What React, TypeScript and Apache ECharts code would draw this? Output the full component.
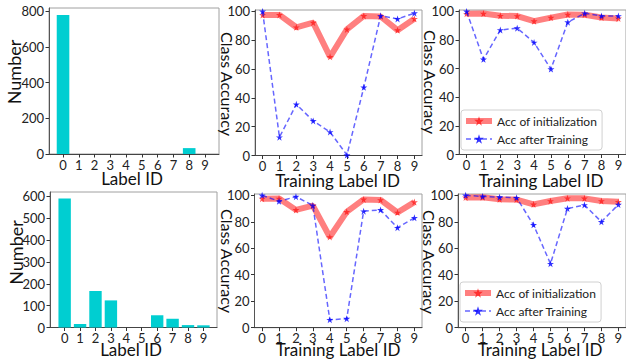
import React, { useEffect, useRef } from "react";
import * as echarts from "echarts";

const labelIds = [0, 1, 2, 3, 4, 5, 6, 7, 8, 9];
const countsTop = [780, 0, 0, 0, 0, 0, 0, 0, 33, 0];
const countsBottom = [590, 16, 167, 124, 0, 0, 56, 40, 11, 10];
const initAccA = [97.5, 97.6, 89, 92.2, 68.5, 87.5, 96.9, 96.5, 87, 94.9];
const initAccB = [98.4, 98.5, 97, 96.8, 93.2, 95.7, 97.8, 97.7, 95.7, 95.1];
const afterTopMid = [100, 12.7, 35.5, 24, 16.3, 0.3, 47.3, 97, 94.8, 98.8];
const afterTopRight = [100, 66.5, 87, 88.3, 78.3, 59.7, 92.5, 98.7, 96.8, 96.8];
const afterBotMid = [100, 95.5, 99, 92.3, 6, 6.8, 88, 89, 75.5, 83];
const afterBotRight = [100, 99.2, 98.6, 98.2, 77.7, 48.3, 90, 92.7, 80, 93];
const accTicks = [0, 20, 40, 60, 80, 100];
const countTicksTop = [0, 200, 400, 600, 800];
const countTicksBottom = [0, 100, 200, 300, 400, 500, 600];

const INIT_NAME = "Acc of initialization";
const AFTER_NAME = "Acc after Training";
const FONT = "Lato";
const STAR =
  "path://M100,0 L122.45,69.1 L195.1,69.1 L136.3,111.8 L158.8,180.9 L100,138.2 L41.2,180.9 L63.7,111.8 L4.9,69.1 L77.55,69.1 Z";

const INIT_LINE = { color: "rgba(255,0,0,0.5)", width: 6 };
const INIT_ITEM = { color: "rgba(255,20,20,0.75)", borderWidth: 0 };
const AFTER_LINE = { color: "rgba(0,0,255,0.6)", width: 1.5, type: [5, 3] };
const AFTER_ITEM = { color: "rgba(0,0,255,0.8)", borderWidth: 0 };

export default function App() {
  const ref = useRef<HTMLDivElement>(null);
  useEffect(() => {
    if (!ref.current) return;
    const chart = echarts.init(ref.current, undefined, { renderer: "svg" });

    const grids = [
      { left: 49, top: 8, width: 170, height: 146 },
      { left: 255, top: 10, width: 167, height: 145.5 },
      { left: 459, top: 10, width: 168, height: 144.5 },
      { left: 50, top: 192, width: 167, height: 135.5 },
      { left: 254.5, top: 194, width: 167.5, height: 133.7 },
      { left: 458, top: 194, width: 168, height: 133.7 },
    ].map((g) => ({ ...g, show: true, borderColor: "#a0a0a0", borderWidth: 1, backgroundColor: "transparent" }));

    const tickLabel = { fontFamily: FONT, fontSize: 13, color: "#222" };
    const mkX = (gi: number, min: number, max: number) => ({
      type: "value",
      gridIndex: gi,
      position: "bottom",
      min,
      max,
      splitLine: { show: false },
      axisLine: { show: true, onZero: false, lineStyle: { color: "#444", width: 1 } },
      axisTick: { show: true, length: 3.5, customValues: labelIds, lineStyle: { color: "#333" } },
      axisLabel: { ...tickLabel, margin: 4, customValues: labelIds },
    });
    const mkY = (gi: number, max: number, ticks: number[]) => ({
      type: "value",
      gridIndex: gi,
      position: "left",
      min: 0,
      max,
      splitLine: { show: false },
      axisLine: { show: true, onZero: false, lineStyle: { color: "#555", width: 1 } },
      axisTick: { show: true, length: 3.5, customValues: ticks, lineStyle: { color: "#333" } },
      axisLabel: { ...tickLabel, margin: 5, customValues: ticks },
    });

    const xAxis = [
      mkX(0, -0.89, 9.89),
      mkX(1, -0.45, 9.45),
      mkX(2, -0.45, 9.45),
      mkX(3, -0.95, 9.88),
      mkX(4, -0.45, 9.45),
      mkX(5, -0.45, 9.45),
    ];
    const yAxis = [
      mkY(0, 819, countTicksTop),
      mkY(1, 101, accTicks),
      mkY(2, 101, accTicks),
      mkY(3, 620, countTicksBottom),
      mkY(4, 101, accTicks),
      mkY(5, 101, accTicks),
    ];

    const barSeries = (gi: number, vals: number[], w: number) => ({
      type: "bar",
      xAxisIndex: gi,
      yAxisIndex: gi,
      barWidth: w,
      data: labelIds.map((c, i) => [c, vals[i]]),
      itemStyle: { color: "#00CED1", borderWidth: 0 },
    });
    const initSeries = (gi: number, vals: number[]) => ({
      type: "line",
      name: INIT_NAME,
      xAxisIndex: gi,
      yAxisIndex: gi,
      data: labelIds.map((c, i) => [c, vals[i]]),
      symbol: STAR,
      symbolSize: 7,
      lineStyle: INIT_LINE,
      itemStyle: INIT_ITEM,
      z: 2,
    });
    const afterSeries = (gi: number, vals: number[]) => ({
      type: "line",
      name: AFTER_NAME,
      xAxisIndex: gi,
      yAxisIndex: gi,
      data: labelIds.map((c, i) => [c, vals[i]]),
      symbol: STAR,
      symbolSize: 7,
      lineStyle: AFTER_LINE,
      itemStyle: AFTER_ITEM,
      z: 3,
    });

    const legendBase = {
      orient: "vertical",
      data: [
        { name: INIT_NAME, lineStyle: { ...INIT_LINE }, itemStyle: { ...INIT_ITEM } },
        { name: AFTER_NAME, lineStyle: { ...AFTER_LINE }, itemStyle: { ...AFTER_ITEM } },
      ],
      itemWidth: 26,
      itemHeight: 12,
      itemGap: 6,
      itemStyle: { borderWidth: 0 },
      padding: [5, 5, 5, 2],
      borderColor: "#d0d0d0",
      borderWidth: 1,
      borderRadius: 3,
      backgroundColor: "rgba(255,255,255,0.8)",
      textStyle: { fontFamily: FONT, fontSize: 12, color: "#222" },
      selectedMode: false,
    };

    const txt = (text: string, x: number, y: number, size: number, rotation = 0) => ({
      type: "text",
      x,
      y,
      rotation,
      z: 100,
      style: {
        text,
        fill: "#111",
        font: `${size}px ${FONT}`,
        textAlign: "center",
        textVerticalAlign: "middle",
        align: "center",
        verticalAlign: "middle",
      },
    });

    chart.setOption({
      animation: false,
      grid: grids,
      xAxis,
      yAxis,
      legend: [
        { ...legendBase, left: 461, top: 110 },
        { ...legendBase, left: 460, top: 282 },
      ],
      series: [
        barSeries(0, countsTop, 12.6),
        initSeries(1, initAccA),
        afterSeries(1, afterTopMid),
        initSeries(2, initAccB),
        afterSeries(2, afterTopRight),
        barSeries(3, countsBottom, 12.4),
        initSeries(4, initAccA),
        afterSeries(4, afterBotMid),
        initSeries(5, initAccB),
        afterSeries(5, afterBotRight),
      ],
      graphic: [
        txt("Number", 14, 72, 18, Math.PI / 2),
        txt("Label ID", 132, 178, 17),
        txt("Class Accuracy", 227.5, 84, 16, -Math.PI / 2),
        txt("Training Label ID", 337.5, 180, 17),
        txt("Class Accuracy", 430.5, 82, 16, -Math.PI / 2),
        txt("Training Label ID", 541, 180, 17),
        txt("Number", 15.5, 252.5, 18, Math.PI / 2),
        txt("Label ID", 131, 349, 17),
        txt("Class Accuracy", 227, 261, 16, -Math.PI / 2),
        txt("Training Label ID", 338, 349.5, 17),
        txt("Class Accuracy", 429, 262, 16, -Math.PI / 2),
        txt("Training Label ID", 540, 349.5, 17),
      ],
    });
    return () => chart.dispose();
  }, []);
  return (
    <div
      ref={ref}
      style={{ position: "absolute", left: 0, top: 0, width: 626, height: 362, background: "#fff" }}
    />
  );
}
